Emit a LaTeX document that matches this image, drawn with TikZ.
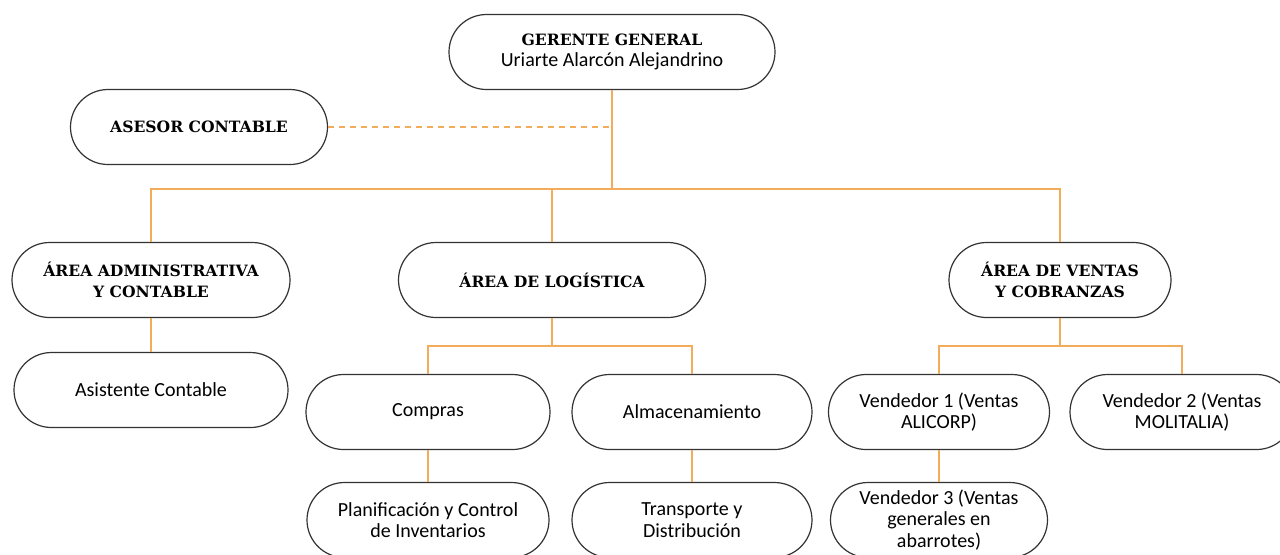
\documentclass[tikz,border=0pt]{standalone}
\usepackage{fontspec}
\setmainfont{Carlito}
\newfontfamily\headfont{DejaVu Serif}
\usetikzlibrary{shapes.misc}
\definecolor{linkorange}{RGB}{242,172,92}

\tikzset{
  box/.style={rounded rectangle, draw=black!80, line width=0.6pt, fill=white,
    minimum height=37.5pt, align=center, inner sep=2pt,
    font=\fontsize{10}{10.8}\selectfont},
  headbox/.style={box, font=\headfont\bfseries\fontsize{7.8}{10.5}\selectfont},
  link/.style={draw=linkorange, line width=0.8pt},
  dashlink/.style={link, dash pattern={on 3pt off 2.5pt}}
}

\begin{document}
\begin{tikzpicture}[x=0.5pt,y=-0.5pt]
    \useasboundingbox (0,0) rectangle (1280,554);

    % top
    \node[headbox, minimum width=167pt] (gg) at (612,52)
      {GERENTE GENERAL\\{\normalfont\fontsize{10}{11}\selectfont Uriarte Alarcón Alejandrino}};
    \node[headbox, minimum width=132.5pt] (as) at (199,127) {ASESOR CONTABLE};

    % areas
    \node[headbox, minimum width=143pt] (adm) at (151,280) {ÁREA ADMINISTRATIVA\\Y CONTABLE};
    \node[headbox, minimum width=157.5pt] (log) at (552,280) {ÁREA DE LOGÍSTICA};
    \node[headbox, minimum width=115pt] (ven) at (1060,280) {ÁREA DE VENTAS\\Y COBRANZAS};

    % second level
    \node[box, minimum width=141pt] (asi) at (151,390) {Asistente Contable};
    \node[box, minimum width=126pt] (com) at (428,412) {Compras};
    \node[box, minimum width=124pt] (alm) at (692,412) {Almacenamiento};
    \node[box, minimum width=114.5pt] (v1) at (939,412) {Vendedor 1 (Ventas\\ALICORP)};
    \node[box, minimum width=116pt] (v2) at (1182,412) {Vendedor 2 (Ventas\\MOLITALIA)};

    % third level
    \node[box, minimum width=125pt] (pla) at (428,520) {Planificación y Control\\de Inventarios};
    \node[box, minimum width=124pt] (tra) at (692,520) {Transporte y\\Distribución};
    \node[box, minimum width=112.5pt] (v3) at (939,520) {Vendedor 3 (Ventas\\generales en\\abarrotes)};

    % connectors
    \coordinate (bus) at (612,189);
    \coordinate (buslog) at (552,346);
    \coordinate (busven) at (1060,346);

    \draw[dashlink] (as.east) -- (as.east -| gg.south);
    \draw[link] (gg.south) -- (bus) -| (adm.north);
    \draw[link] (bus) -| (log.north);
    \draw[link] (bus) -| (ven.north);
    \draw[link] (adm.south) -- (asi.north);
    \draw[link] (log.south) -- (buslog) -| (com.north);
    \draw[link] (buslog) -| (alm.north);
    \draw[link] (ven.south) -- (busven) -| (v1.north);
    \draw[link] (busven) -| (v2.north);
    \draw[link] (com.south) -- (pla.north);
    \draw[link] (alm.south) -- (tra.north);
    \draw[link] (v1.south) -- (v3.north);
\end{tikzpicture}
\end{document}
